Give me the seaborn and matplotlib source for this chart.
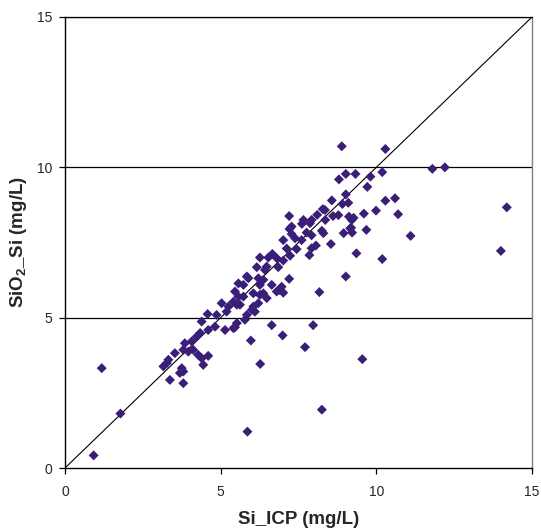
import matplotlib
matplotlib.use("Agg")
import matplotlib.pyplot as plt
import seaborn as sns
import pandas as pd

si_icp = [0.92, 1.18, 1.78, 5.86, 8.25, 9.55, 6.64, 7.97, 6.99, 5.97, 7.71, 6.27,
          11.80, 12.20, 14.19, 14.00, 11.10, 10.70, 10.19, 9.36, 9.02, 9.68, 8.95, 9.22,
          9.16, 8.54, 9.21, 8.89, 10.29, 9.02, 9.33, 8.80, 9.81, 10.19, 9.71, 9.02,
          8.57, 8.91, 9.10, 10.29, 10.60, 9.99, 9.60, 8.35, 8.61, 8.78, 9.12, 9.27,
          9.19, 7.20, 7.66, 7.61, 7.92, 8.10, 8.28, 8.36, 7.21, 7.28, 7.76, 7.92,
          8.25, 8.30, 7.01, 7.12, 7.60, 8.06, 7.92, 7.85, 6.66, 6.53, 6.26, 6.80,
          7.23, 7.01, 6.16, 6.48, 6.85, 7.20, 8.17, 5.84, 6.37, 6.64, 6.88, 7.01,
          6.26, 6.05, 6.26, 5.73, 6.05, 5.62, 7.44, 6.42, 5.89, 5.73, 5.57, 6.21,
          6.96, 6.80, 5.46, 5.57, 6.37, 6.48, 5.03, 5.25, 5.41, 6.21, 6.00, 6.10,
          5.84, 5.78, 5.52, 5.41, 5.14, 4.82, 4.87, 5.52, 5.19, 4.58, 4.39, 4.60,
          4.34, 4.07, 3.85, 4.23, 3.80, 4.28, 4.60, 4.39, 4.44, 3.53, 3.32, 3.27,
          3.75, 3.80, 3.69, 3.37, 3.80, 3.16, 4.12, 3.96, 7.28, 7.87, 7.39, 5.46]
sio2_si = [0.42, 3.32, 1.81, 1.21, 1.94, 3.62, 4.75, 4.75, 4.41, 4.24, 4.02, 3.46,
           9.95, 10.00, 8.67, 7.22, 7.72, 8.44, 6.95, 7.14, 6.37, 7.92, 7.81, 7.83,
           7.97, 7.45, 8.25, 10.70, 10.61, 9.78, 9.78, 9.60, 9.69, 9.84, 9.35, 9.10,
           8.90, 8.78, 8.82, 8.89, 8.97, 8.56, 8.46, 8.58, 8.38, 8.41, 8.36, 8.32,
           7.99, 8.38, 8.25, 8.12, 8.25, 8.42, 8.61, 8.25, 7.95, 7.78, 7.83, 7.74,
           7.89, 7.81, 7.58, 7.30, 7.58, 7.40, 7.31, 7.08, 7.12, 7.00, 7.00, 6.98,
           7.06, 6.90, 6.68, 6.70, 6.68, 6.29, 5.85, 6.37, 6.26, 6.09, 5.92, 5.83,
           6.09, 5.81, 5.76, 5.70, 5.37, 5.43, 7.28, 6.59, 6.31, 6.09, 6.14, 6.31,
           6.03, 5.87, 5.87, 5.70, 5.81, 5.65, 5.48, 5.37, 5.53, 5.48, 5.26, 5.20,
           5.09, 4.93, 4.82, 4.65, 4.59, 4.70, 5.09, 5.43, 5.20, 5.12, 4.87, 4.59,
           4.49, 4.21, 4.15, 4.37, 3.93, 3.76, 3.73, 3.65, 3.43, 3.82, 3.60, 3.49,
           3.32, 3.21, 3.16, 2.93, 2.82, 3.38, 3.93, 3.87, 8.03, 8.14, 7.64, 4.68]

ticks = [0, 5, 10, 15]
one_to_one = [0, 15]

df = pd.DataFrame({"Si_ICP": si_icp, "SiO2_Si": sio2_si})

sns.set_style("white")
plt.rcParams["font.family"] = ["Liberation Sans", "DejaVu Sans"]
plt.rcParams["mathtext.fontset"] = "custom"
plt.rcParams["mathtext.rm"] = "Liberation Sans"
plt.rcParams["mathtext.bf"] = "Liberation Sans:bold"

fig = plt.figure(figsize=(5.41, 5.28), dpi=100)
ax = fig.add_axes([65 / 541, 60 / 528, 467 / 541, 451 / 528])

for g in [5, 10, 15]:
    ax.axhline(g, color="black", lw=0.9, zorder=1)
ax.plot(one_to_one, one_to_one, color="black", lw=0.8, zorder=2)

sns.scatterplot(data=df, x="Si_ICP", y="SiO2_Si", marker="D", s=26,
                color="#3A1E78", edgecolor="none", linewidth=0, ax=ax, zorder=3)

ax.set_xlim(0, 15)
ax.set_ylim(0, 15)
ax.set_xticks(ticks)
ax.set_yticks(ticks)
ax.set_xticklabels([str(t) for t in ticks], fontsize=10)
ax.set_yticklabels([str(t) for t in ticks], fontsize=10)
ax.tick_params(axis="both", direction="out", length=4, width=0.9, color="black",
               bottom=True, left=True)
ax.tick_params(axis="x", pad=8)
ax.tick_params(axis="y", pad=5)

for side in ["left", "bottom"]:
    ax.spines[side].set_color("black")
    ax.spines[side].set_linewidth(1.0)
ax.spines["top"].set_color("black")
ax.spines["top"].set_linewidth(0.9)
ax.spines["right"].set_color("#808080")
ax.spines["right"].set_linewidth(1.0)

ax.set_xlabel("Si_ICP (mg/L)", fontsize=13.5, fontweight="bold", labelpad=9)
ax.set_ylabel(r"SiO$_\mathbf{2}$_Si (mg/L)", fontsize=13.5, fontweight="bold", labelpad=6)

fig.savefig("out.png", dpi=100)
